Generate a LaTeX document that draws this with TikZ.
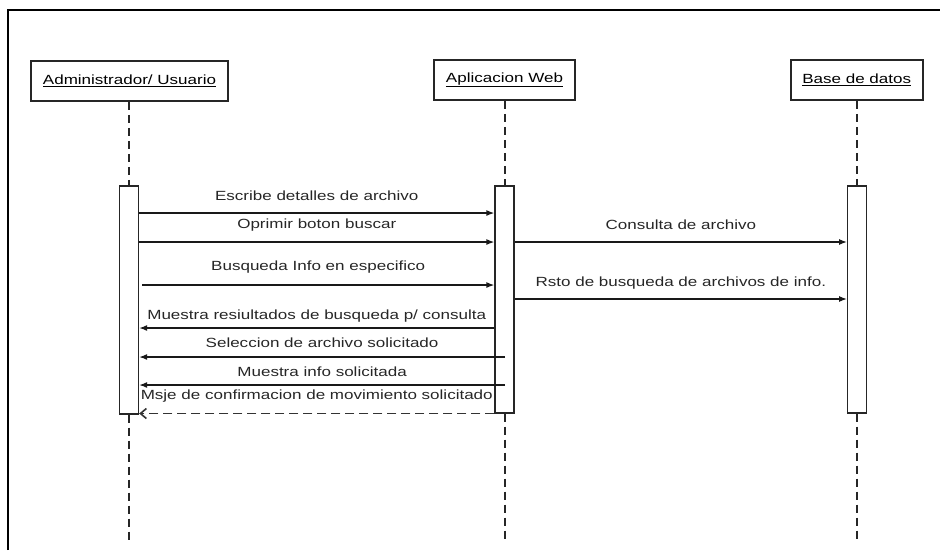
\documentclass[tikz,border=0pt]{standalone}
\usepackage{fontspec}
\setmainfont{Liberation Sans}[FakeStretch=1.28]
\usetikzlibrary{arrows.meta}
\begin{document}
\begin{tikzpicture}[x=1pt,y=-1pt,
  font=\fontsize{13.3}{15}\selectfont,
  hdr/.style={draw=black!85, line width=1.6pt, minimum height=40pt, inner sep=0pt, fill=white},
  act/.style={draw=black!85, line width=1.3pt, minimum width=19pt, inner sep=0pt, fill=white},
  life/.style={draw=black!85, line width=1.3pt, dash pattern=on 8pt off 5pt},
  msg/.style={draw=black!90, line width=1.3pt, -{Latex[length=8pt,width=6pt]}},
  ret/.style={draw=black!80, line width=1.6pt, dash pattern=on 9pt off 5pt, -{Straight Barb[length=6pt,width=10pt]}},
  lbl/.style={inner sep=0pt, text=black!85}]
\useasboundingbox (0,0) rectangle (940,550);
\draw[line width=1.4pt] (8,550) -- (8,10) -- (940,10);

% headers
\node[hdr, minimum width=197pt] (admin) at (129.5,81) {\underline{Administrador/ Usuario}};
\node[hdr, minimum width=141pt] (web) at (504.5,80) {\underline{Aplicacion Web}};
\node[hdr, minimum width=132pt] (db) at (856.7,80) {\underline{Base de datos}};

% free ends of lifelines
\coordinate (aend) at (129,540);
\coordinate (wend) at (505,540);
\coordinate (dend) at (857,540);

% lifelines (top parts)
\draw[life] (admin.south -| aend) -- (129,186);
\draw[life] (web.south -| wend) -- (505,186);
\draw[life] (db.south -| dend) -- (857,186);

% activation boxes
\node[act, minimum height=228pt] (aa) at (129,300) {};
\node[act, minimum height=227pt] (wa) at (504.5,299.5) {};
\node[act, minimum height=227pt] (da) at (857.2,299.5) {};

% lifelines (bottom parts)
\draw[life] (aa.south) -- (aend);
\draw[life] (wa.south -| wend) -- (wend);
\draw[life] (da.south -| dend) -- (dend);

% messages
\draw[msg] (aa.east |- 0,213) -- (wa.west |- 0,213)
  node[lbl, midway, yshift=17pt] {Escribe detalles de archivo};
\draw[msg] (aa.east |- 0,242) -- (wa.west |- 0,242)
  node[lbl, midway, yshift=17pt] {Oprimir boton buscar};
\draw[msg] (142,285) -- (wa.west |- 0,285)
  node[lbl, midway, yshift=18pt] {Busqueda Info en especifico};
\draw[msg] (wa.east |- 0,242) -- (da.west |- 0,242)
  node[lbl, midway, yshift=17pt] {Consulta de archivo};
\draw[msg] (wa.east |- 0,299) -- (da.west |- 0,299)
  node[lbl, midway, yshift=16pt] {Rsto de busqueda de archivos de info.};
\draw[msg] (wa.west |- 0,328) -- (aa.east |- 0,328)
  node[lbl, midway, yshift=12pt] {Muestra resiultados de busqueda p/ consulta};
\draw[msg] (wend |- 0,357) -- (aa.east |- 0,357)
  node[lbl, midway, yshift=14pt] {Seleccion de archivo solicitado};
\draw[msg] (wend |- 0,385) -- (aa.east |- 0,385)
  node[lbl, midway, yshift=13pt] {Muestra info solicitada};
\draw[ret] (wa.west |- 0,413.5) -- (aa.east |- 0,413.5)
  node[lbl, midway, yshift=17pt] {Msje de confirmacion de movimiento solicitado};
\end{tikzpicture}
\end{document}
